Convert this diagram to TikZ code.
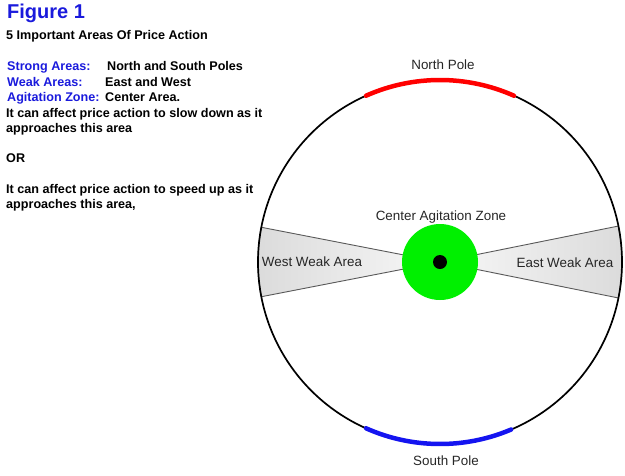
\documentclass[tikz,border=0pt]{standalone}
\usepackage{fontspec}
\setmainfont{Liberation Sans}
\usepackage{xcolor}
\usepackage{tikz}
\usetikzlibrary{positioning}
\definecolor{figblue}{RGB}{26,26,220}
\definecolor{poleblue}{RGB}{20,20,240}
\definecolor{agitgreen}{RGB}{0,240,0}
\tikzset{
  figtitle/.style={anchor=base west, inner sep=0pt, text=figblue,
    font=\fontsize{20}{22}\selectfont\bfseries},
  bodytext/.style={anchor=base west, inner sep=0pt,
    font=\fontsize{12.6}{14}\selectfont\bfseries},
  keytext/.style={bodytext, text=figblue},
  zonelabel/.style={inner sep=1pt, font=\fontsize{13.4}{15}\selectfont, text=black!85},
  polearc/.style={line width=4.5pt, line cap=round},
  weakwedge/.style={draw=black!65, line width=0.9pt},
}

\begin{document}
\begin{tikzpicture}[x=1pt, y=-1pt]
\useasboundingbox (0,0) rectangle (625,475);

% left hand text
\node[figtitle] (fig) at (7,18) {Figure 1};
\node[bodytext] (intro) at (6,39) {5 Important Areas Of Price Action};
\node[keytext] (strongkey) at (7,70) {Strong Areas:};
\node[bodytext] (strongval) at (107,70) {North and South Poles};
\node[keytext] (weakkey) at (7,86) {Weak Areas:};
\node[bodytext] (weakval) at (105,86) {East and West};
\node[keytext] (agitkey) at (7,101) {Agitation Zone:};
\node[bodytext] (agitval) at (105,101) {Center Area.};
\node[bodytext] (slowa) at (6,117) {It can affect price action to slow down as it};
\node[bodytext] (slowb) at (6,132) {approaches this area};
\node[bodytext] (orline) at (6,162) {OR};
\node[bodytext] (fasta) at (6,193) {It can affect price action to speed up as it};
\node[bodytext] (fastb) at (6,208) {approaches this area,};

% the compass (y runs downwards, so angles turn clockwise)
\coordinate (hub) at (440,262);
\path[weakwedge, left color=black!14, right color=black!3]
  (hub) -- ++(169:182) arc[start angle=169, end angle=191, radius=182] -- cycle;
\path[weakwedge, left color=black!3, right color=black!14]
  (hub) -- ++(-11.4:182) arc[start angle=-11.4, end angle=11.4, radius=182] -- cycle;
\draw[line width=1.7pt] (hub) circle[radius=182];
\draw[polearc, red] ([shift={(246:182)}]hub) arc[start angle=246, end angle=294, radius=182];
\draw[polearc, poleblue] ([shift={(67:182)}]hub) arc[start angle=67, end angle=114, radius=182];
\fill[agitgreen] (hub) circle[radius=38];
\fill[black] (hub) circle[radius=7];

% zone labels
\node[zonelabel] (north) at (443,65) {North Pole};
\node[zonelabel] (south) at (446,461) {South Pole};
\node[zonelabel] (center) at (441,217) {Center Agitation Zone};
\node[zonelabel] (west) at (312,262) {West Weak Area};
\node[zonelabel] (east) at (565,263) {East Weak Area};
\end{tikzpicture}
\end{document}
